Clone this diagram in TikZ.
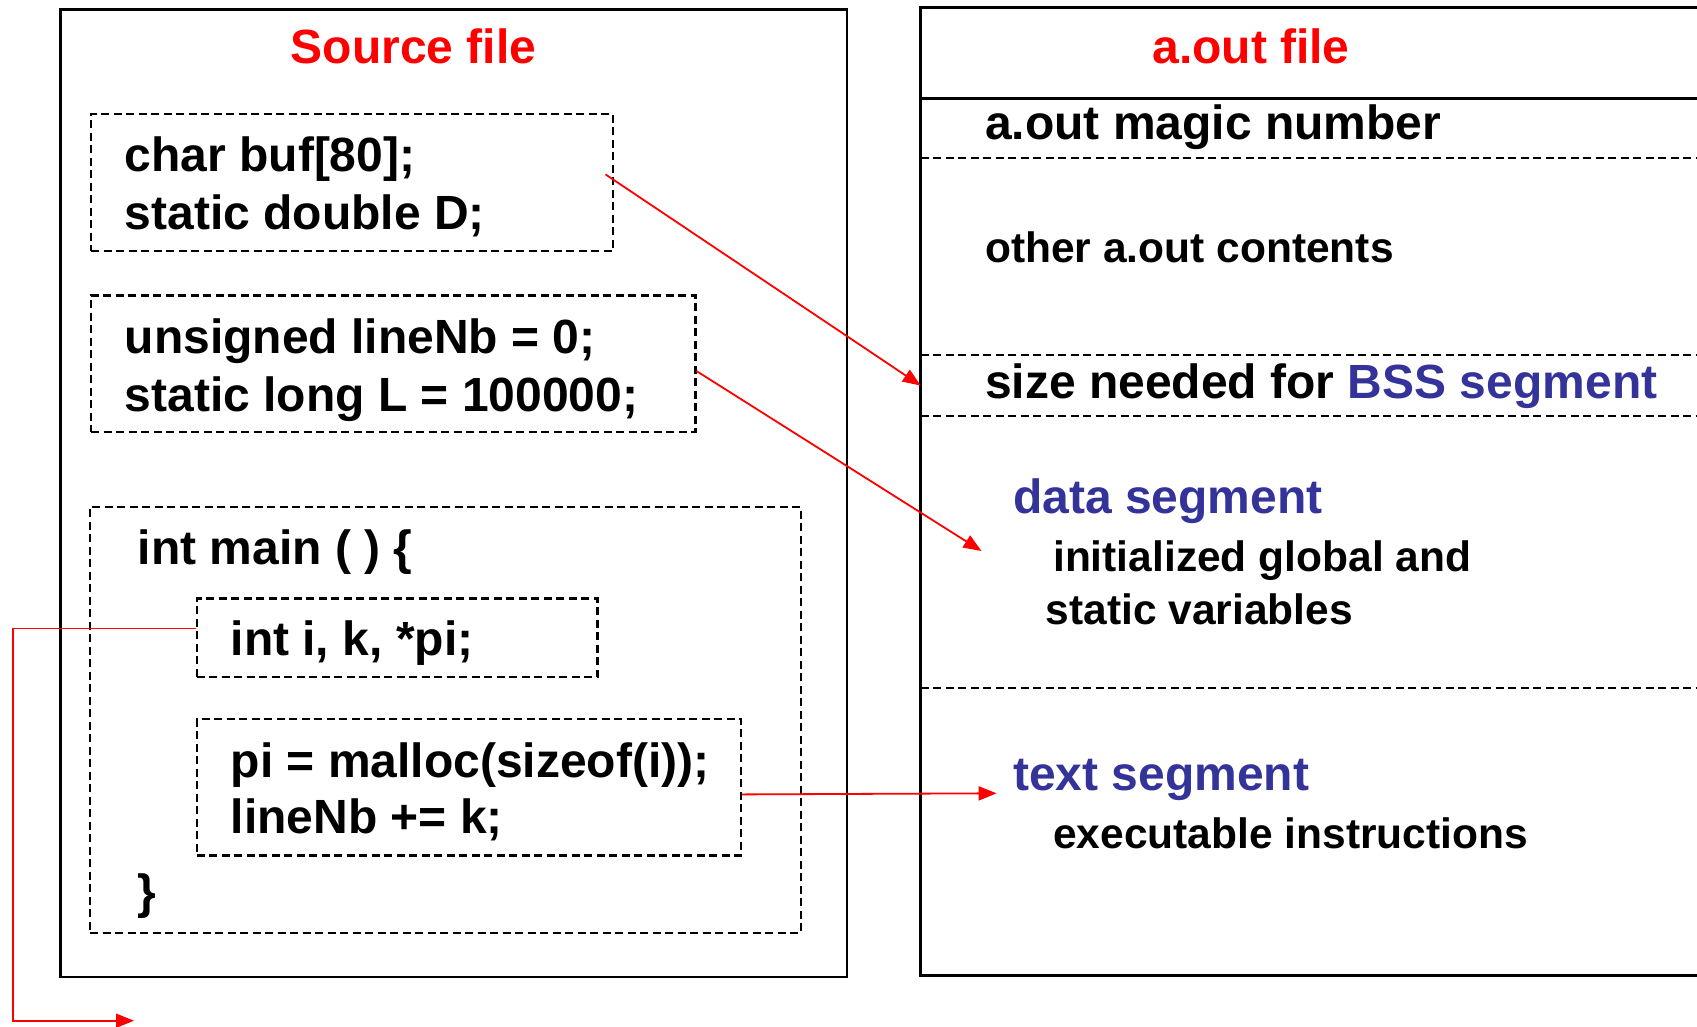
\documentclass[tikz,border=0pt]{standalone}
\usepackage{fontspec}
\setmainfont{Liberation Sans}
\usetikzlibrary{arrows.meta,calc}
\definecolor{segblue}{RGB}{51,51,153}
\newcommand\fbig{\fontsize{48}{58}\selectfont\bfseries}
\newcommand\fsmall{\fontsize{42.5}{51}\selectfont\bfseries}
\tikzset{
  solidframe/.style={draw=black, line width=2.5pt},
  dashframe/.style={draw=black, line width=2.2pt, dash pattern=on 8pt off 4.5pt},
  codebox/.style={dashframe, inner sep=0pt, anchor=north west},
  txt/.style={anchor=base west, inner sep=0pt, font=\fbig},
  subtxt/.style={anchor=base west, inner sep=0pt, font=\fsmall},
  heading/.style={anchor=base, inner sep=0pt, font=\fbig, text=red},
  link/.style={draw=red, line width=1.8pt, -{Triangle[length=18pt,width=14pt]}},
}
\begin{document}
\begin{tikzpicture}[x=1pt,y=-1pt]
\useasboundingbox (0,0) rectangle (1697,1026);

% ---- source file frame ----
\node[solidframe, inner sep=0pt, anchor=north west, minimum width=786.7pt, minimum height=967.7pt] (src) at (59,8) {};
\node[heading] (srct) at (413.4,63) {Source file};

\node[codebox, minimum width=521.7pt, minimum height=137.4pt] (b1) at (90,112.6) {};
\node[txt] (l1) at (124.5,171) {char buf[80];};
\node[txt] (l2) at (124.5,229) {static double D;};

\node[codebox, minimum width=604.3pt, minimum height=136.7pt] (b2) at (90,294.3) {};
\node[txt] (l3) at (124.5,353) {unsigned lineNb = 0;};
\node[txt] (l4) at (124.5,411) {static long L = 100000;};

\node[codebox, minimum width=711pt, minimum height=425.7pt] (b3) at (89,506) {};
\node[txt] (l5) at (137.5,564) {int main ( ) \{};
\node[codebox, minimum width=400.6pt, minimum height=78.6pt] (b4) at (195.7,597.4) {};
\node[txt] (l6) at (230.5,655) {int i, k, *pi;};
\node[codebox, minimum width=544.3pt, minimum height=136.6pt] (b5) at (195.7,717.7) {};
\node[txt] (l7) at (230.5,777) {pi = malloc(sizeof(i));};
\node[txt] (l8) at (230.5,833) {lineNb += k;};
\node[txt] (l9) at (137.5,908) {\}};

% ---- a.out file frame (open on the right) ----
\draw[solidframe] (1700,7.3) -- (920.7,7.3) -- (920.7,975.7) -- (1700,975.7);
\draw[solidframe] (920.7,98.3) -- (1700,98.3);
\node[heading] (outt) at (1251,63) {a.out file};

\node[txt] (r1) at (985,139) {a.out magic number};
\draw[dashframe] (920.7,158.3) -- (1700,158.3);
\node[subtxt] (r2) at (985,262) {other a.out contents};
\draw[dashframe] (920.7,355) -- (1700,355);
\node[inner sep=0pt, anchor=north west, minimum width=776.3pt, minimum height=60.7pt] (bss) at (920.7,355) {};
\node[txt] (r3) at (985,398) {size needed for \textcolor{segblue}{BSS segment}};
\draw[dashframe] (920.7,415.7) -- (1700,415.7);
\node[txt, text=segblue] (r4) at (1013,513.5) {data segment};
\node[subtxt] (r5) at (1053,571.5) {initialized global and};
\node[subtxt] (r6) at (1045.5,624.5) {static variables};
\draw[dashframe] (920.7,688.3) -- (1700,688.3);
\node[txt, text=segblue] (r7) at (1013,790.5) {text segment};
\node[subtxt] (r8) at (1053,848.5) {executable instructions};

% ---- connectors ----
\coordinate (s1) at ($(b1.east)+(-8.4,-8)$);
\coordinate (s2) at ($(b2.east)+(0,7.3)$);
\coordinate (t2) at (981.5,551);
\coordinate (s3) at ($(b5.east)+(0,7.3)$);
\coordinate (t3) at (996.7,793.3);
\coordinate (s4) at ($(b4.west)+(0,-9.4)$);
\coordinate (k4) at (13.3,1020.7);
\coordinate (t4) at (134,1020.7);

\draw[link] (s1) -- (bss.west);
\draw[link] (s2) -- (t2);
\draw[link] (s3) -- (t3);
\draw[link] (s4) -| (k4) -- (t4);
\end{tikzpicture}
\end{document}
